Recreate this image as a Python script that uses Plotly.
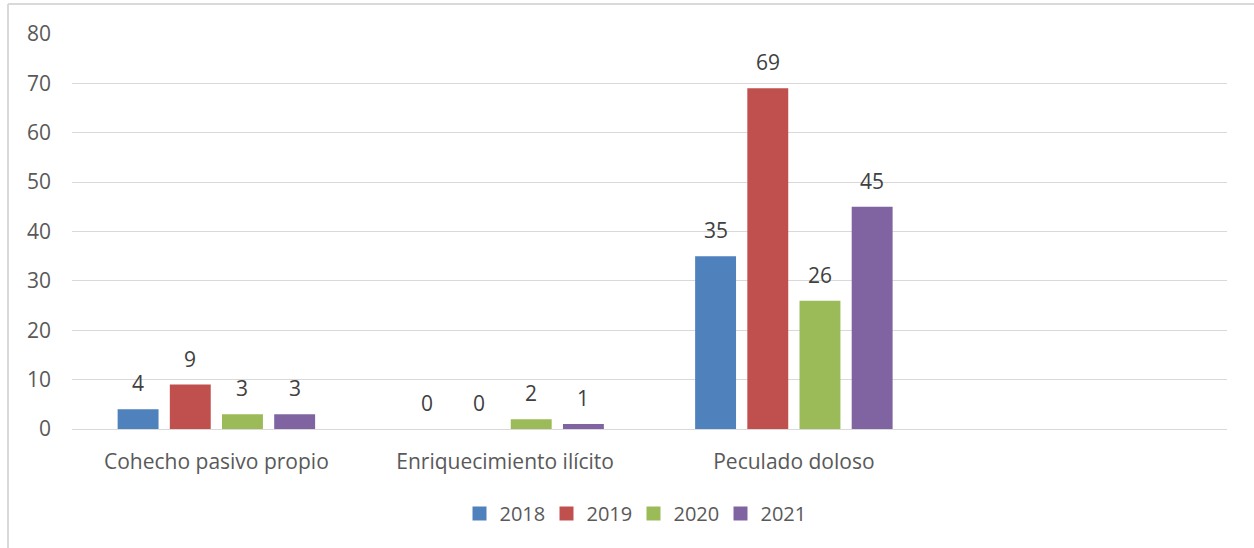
import plotly.graph_objects as go

# Delitos registrados por año
categorias = ["Cohecho pasivo propio", "Enriquecimiento ilícito", "Peculado doloso", " "]
anios = ["2018", "2019", "2020", "2021"]
valores_2018 = [4, 0, 35, None]
valores_2019 = [9, 0, 69, None]
valores_2020 = [3, 2, 26, None]
valores_2021 = [3, 1, 45, None]
colores = ["#4F81BD", "#C0504D", "#9BBB59", "#8064A2"]
y_ticks = [0, 10, 20, 30, 40, 50, 60, 70, 80]

series = [valores_2018, valores_2019, valores_2020, valores_2021]

W, H = 1254, 548
ml, mr, mt, mb = 72, 27, 34, 119
FONT = "Open Sans"
FS = 21

BARGAP = 0.277
GROUPGAP = 0.216

fig = go.Figure()
for anio, vals, color in zip(anios, series, colores):
    fig.add_trace(go.Bar(
        name=anio,
        x=categorias,
        y=vals,
        marker=dict(color=color, line=dict(width=0)),
        showlegend=False,
    ))
    # legend entry with a larger square swatch
    fig.add_trace(go.Scatter(
        name=anio, x=[None], y=[None], mode="markers",
        marker=dict(symbol="square", size=14, color=color),
        showlegend=True,
    ))

# value labels above each bar
n = len(series)
pitch = (1 - BARGAP) / n
annotations = []
for j, vals in enumerate(series):
    off = (j - (n - 1) / 2) * pitch
    for i, v in enumerate(vals):
        if v is None:
            continue
        annotations.append(dict(
            x=i + off, y=v, xref="x", yref="y",
            text=str(v), showarrow=False,
            yanchor="bottom", yshift=10,
            font=dict(family=FONT, size=FS, color="#404040"),
        ))

pw = W - ml - mr
ph = H - mt - mb
fig.update_layout(
    width=W, height=H,
    margin=dict(l=ml, r=mr, t=mt, b=mb),
    paper_bgcolor="white",
    plot_bgcolor="white",
    barmode="group",
    bargap=BARGAP,
    bargroupgap=GROUPGAP,
    font=dict(family=FONT, size=FS, color="#595959"),
    showlegend=True,
    legend=dict(
        orientation="h",
        x=(633.5 - ml) / pw, xanchor="center",
        y=-(513.5 - 429) / ph, yanchor="middle",
        font=dict(family=FONT, size=20, color="#595959"),
        itemwidth=30,
        entrywidth=42,
        entrywidthmode="pixels",
        traceorder="normal",
    ),
    xaxis=dict(
        type="category",
        showgrid=False,
        showline=True,
        linecolor="#D9D9D9",
        linewidth=1,
        ticks="",
        tickfont=dict(family=FONT, size=FS, color="#595959"),
        ticklabelstandoff=14,
    ),
    yaxis=dict(
        range=[0, 80],
        tickvals=y_ticks,
        showgrid=True,
        gridcolor="#D9D9D9",
        gridwidth=1,
        zeroline=True,
        zerolinecolor="#D9D9D9",
        zerolinewidth=1,
        ticks="",
        tickfont=dict(family=FONT, size=FS, color="#595959"),
        ticklabelstandoff=20,
    ),
    annotations=annotations,
    shapes=[
        # chart frame (left and top edges)
        dict(type="line", xref="paper", yref="paper",
             x0=(8 - ml) / pw, x1=(8 - ml) / pw,
             y0=(mt + ph - H - 5) / ph, y1=(mt + ph - 4) / ph,
             line=dict(color="#D9D9D9", width=2)),
        dict(type="line", xref="paper", yref="paper",
             x0=(8 - ml) / pw, x1=(W + 5 - ml) / pw,
             y0=(mt + ph - 4) / ph, y1=(mt + ph - 4) / ph,
             line=dict(color="#D9D9D9", width=2)),
    ],
)

fig.write_html("out.html")
